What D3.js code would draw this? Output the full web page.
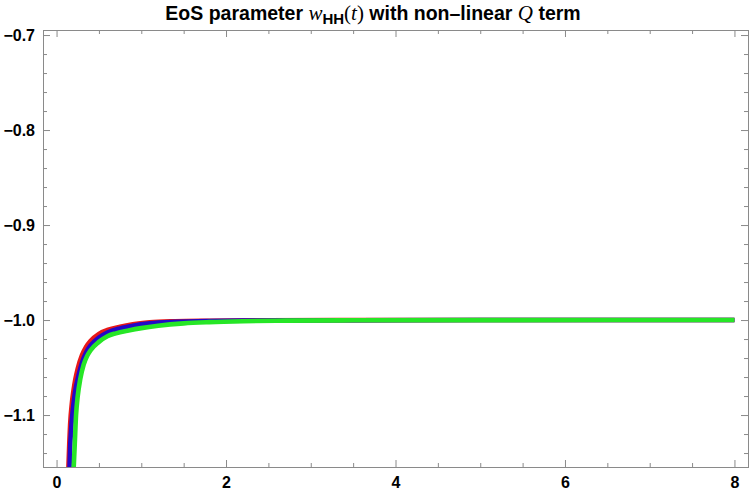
<!DOCTYPE html>
<html><head><meta charset="utf-8">
<script src="https://cdn.jsdelivr.net/npm/d3@7"></script>
<style>body{margin:0;background:#fff;} svg{display:block;}</style>
</head><body>
<svg id="c" width="750" height="494"></svg>
<script>
// ---- data ----
const xTicksMajor = [0, 2, 4, 6, 8];
const yTicksMajor = [-1.1, -1.0, -0.9, -0.8, -0.7];
const seriesNames = ["red", "blue", "green"];
const redT = [0.138,0.15,0.16,0.18,0.2,0.22,0.25,0.3,0.35,0.4,0.5,0.6,0.75,0.9,1.1,1.4,1.8,2.5,3.5,5,8];
const redW = [-1.16,-1.13,-1.11,-1.088,-1.074,-1.063,-1.051,-1.037,-1.028,-1.022,-1.0145,-1.0105,-1.007,-1.0045,-1.0025,-1.0013,-1.0007,-1.0003,-1.0001,-1.0,-1.0];
const blueT = [0.152,0.16,0.17,0.19,0.21,0.23,0.26,0.3,0.35,0.4,0.5,0.6,0.75,0.9,1.1,1.4,1.8,2.5,3.5,5,8];
const blueW = [-1.16,-1.135,-1.118,-1.096,-1.081,-1.07,-1.058,-1.045,-1.034,-1.027,-1.0185,-1.0132,-1.0088,-1.006,-1.0035,-1.0019,-1.001,-1.0005,-1.0002,-1.0,-1.0];
const greenT = [0.2,0.215,0.23,0.25,0.28,0.32,0.36,0.4,0.5,0.6,0.7,0.85,1.0,1.2,1.5,1.8,2.2,2.7,3.5,5,8];
const greenW = [-1.16,-1.13,-1.10,-1.08,-1.062,-1.047,-1.038,-1.032,-1.023,-1.017,-1.014,-1.011,-1.0085,-1.006,-1.0035,-1.0022,-1.0012,-1.0006,-1.0003,-1.0001,-1.0];

// ---- layout ----
const svg = d3.select("#c");
const L = 43, R = 748, T = 30, B = 467;
const x = d3.scaleLinear().domain([-0.16, 8.16]).range([L, R]);
const y = d3.scaleLinear().domain([-1.1547, -0.6947]).range([B, T]);

const xMinor = d3.range(0, 8.001, 0.5).filter(v => !xTicksMajor.includes(v));
const yMinor = d3.range(-1.14, -0.699, 0.02).map(v => +v.toFixed(2)).filter(v => !yTicksMajor.some(m => Math.abs(m - v) < 1e-9));

const frameColor = "#8a8a8a";

// curves
const defs = svg.append("defs");
defs.append("clipPath").attr("id", "clip").append("rect")
  .attr("x", L).attr("y", T).attr("width", R - L).attr("height", B - T);

const line = d3.line().x(d => x(d[0])).y(d => y(d[1])).curve(d3.curveMonotoneX);
const series = [
  {name: "red", t: redT, w: redW, color: "#e81818"},
  {name: "blue", t: blueT, w: blueW, color: "#2208c8"},
  {name: "green", t: greenT, w: greenW, color: "#26e626"}
];
const g = svg.append("g").attr("clip-path", "url(#clip)");
series.forEach(s => {
  g.append("path")
    .datum(s.t.map((t, i) => [t, s.w[i]]))
    .attr("d", line)
    .attr("fill", "none")
    .attr("stroke", s.color)
    .attr("stroke-width", 4.6)
    .attr("stroke-linecap", "butt")
    .attr("stroke-linejoin", "round");
});

// ticks
function styleAxis(sel) {
  sel.select(".domain").remove();
  sel.selectAll(".tick line").attr("stroke", frameColor).attr("stroke-width", 1);
  sel.selectAll(".tick text")
    .attr("font-family", "'Liberation Sans', Arial, sans-serif")
    .attr("font-weight", "bold").attr("font-size", 16).attr("fill", "#000");
}
const fmtY = d => d3.format(".1f")(d);
// bottom major (labels)
svg.append("g").attr("transform", `translate(0,${B})`)
  .call(d3.axisBottom(x).tickValues(xTicksMajor).tickSizeInner(-7).tickSizeOuter(0).tickPadding(10).tickFormat(d3.format("d")))
  .call(styleAxis);
svg.append("g").attr("transform", `translate(0,${B})`)
  .call(d3.axisBottom(x).tickValues(xMinor).tickSizeInner(-4).tickSizeOuter(0).tickFormat(""))
  .call(styleAxis);
// top
svg.append("g").attr("transform", `translate(0,${T})`)
  .call(d3.axisTop(x).tickValues(xTicksMajor).tickSizeInner(-7).tickSizeOuter(0).tickFormat(""))
  .call(styleAxis);
svg.append("g").attr("transform", `translate(0,${T})`)
  .call(d3.axisTop(x).tickValues(xMinor).tickSizeInner(-4).tickSizeOuter(0).tickFormat(""))
  .call(styleAxis);
// left
svg.append("g").attr("transform", `translate(${L},0)`)
  .call(d3.axisLeft(y).tickValues(yTicksMajor).tickSizeInner(-7).tickSizeOuter(0).tickPadding(8).tickFormat(fmtY))
  .call(styleAxis);
svg.append("g").attr("transform", `translate(${L},0)`)
  .call(d3.axisLeft(y).tickValues(yMinor).tickSizeInner(-4).tickSizeOuter(0).tickFormat(""))
  .call(styleAxis);
// right
svg.append("g").attr("transform", `translate(${R},0)`)
  .call(d3.axisRight(y).tickValues(yTicksMajor).tickSizeInner(-7).tickSizeOuter(0).tickFormat(""))
  .call(styleAxis);
svg.append("g").attr("transform", `translate(${R},0)`)
  .call(d3.axisRight(y).tickValues(yMinor).tickSizeInner(-4).tickSizeOuter(0).tickFormat(""))
  .call(styleAxis);

// frame
svg.append("rect").attr("x", L).attr("y", T).attr("width", R - L).attr("height", B - T)
  .attr("fill", "none").attr("stroke", frameColor).attr("stroke-width", 1).attr("shape-rendering", "crispEdges");

// title
const sans = "'Liberation Sans', Arial, sans-serif";
const serif = "'Liberation Serif', 'Times New Roman', serif";
const title = svg.append("text").attr("x", 373).attr("y", 20).attr("text-anchor", "middle")
  .attr("font-family", sans).attr("font-weight", "bold").attr("font-size", 19.5).attr("fill", "#000");
title.append("tspan").text("EoS parameter ");
title.append("tspan").attr("font-family", serif).attr("font-style", "italic").attr("font-weight", "normal").attr("font-size", 21).text("w");
title.append("tspan").attr("font-size", 15).attr("dy", 4).text("HH");
title.append("tspan").attr("dy", -4).attr("font-family", serif).attr("font-weight", "normal").attr("font-size", 21).text("(");
title.append("tspan").attr("font-family", serif).attr("font-style", "italic").attr("font-weight", "normal").attr("font-size", 21).text("t");
title.append("tspan").attr("font-family", serif).attr("font-weight", "normal").attr("font-size", 21).text(")");
title.append("tspan").text(" with non\u2013linear ");
title.append("tspan").attr("font-family", serif).attr("font-style", "italic").attr("font-weight", "normal").attr("font-size", 21).text("Q");
title.append("tspan").text(" term");
</script>
</body></html>
